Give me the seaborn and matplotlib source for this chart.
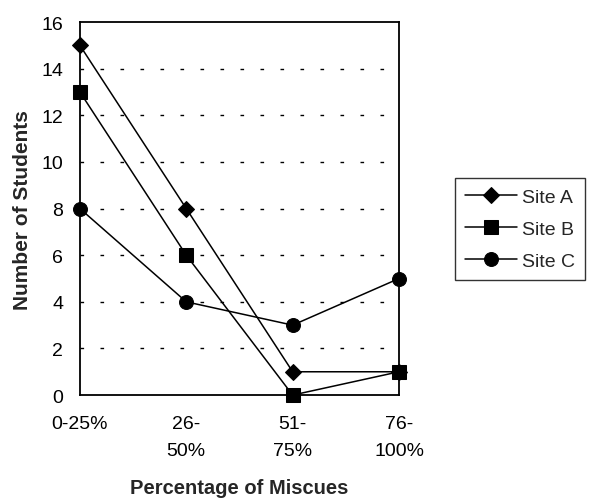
import matplotlib
matplotlib.use("Agg")
import matplotlib.pyplot as plt
import seaborn as sns
import pandas as pd

categories = ["0-25%", "26-\n50%", "51-\n75%", "76-\n100%"]
sites = ["Site A", "Site B", "Site C"]
site_a = [15, 8, 1, 1]
site_b = [13, 6, 0, 1]
site_c = [8, 4, 3, 5]
y_ticks = [0, 2, 4, 6, 8, 10, 12, 14, 16]

rows = []
for name, vals in zip(sites, [site_a, site_b, site_c]):
    for i, v in enumerate(vals):
        rows.append({"pos": i, "Students": v, "Site": name})
df = pd.DataFrame(rows)

sns.set_style("white")
plt.rcParams['font.family'] = ['Liberation Sans', 'DejaVu Sans']

fig = plt.figure(figsize=(5.92, 5.02), dpi=100)
ax = fig.add_axes([0.135, 0.211, 0.539, 0.743])

sns.lineplot(data=df, x="pos", y="Students", hue="Site", style="Site",
             markers={"Site A": "D", "Site B": "s", "Site C": "o"},
             dashes=False, palette=["black"] * 3, linewidth=1.1,
             markersize=10, markeredgecolor="black", ax=ax)

marker_sizes = {"D": 8.5, "s": 10, "o": 10}
for ln in ax.lines:
    ln.set_clip_on(False)
    m = ln.get_marker()
    if m in marker_sizes:
        ln.set_markersize(marker_sizes[m])

ax.set_xlim(0, 3)
ax.set_ylim(0, 16)
ax.set_yticks(y_ticks)
ax.set_xticks(range(len(categories)))
ax.set_xticklabels(categories, linespacing=1.75)
ax.tick_params(axis="both", labelsize=14, colors="black", direction="inout",
               length=7, width=1)
ax.tick_params(axis="x", pad=11)
ax.tick_params(axis="y", pad=8.5)
for t in y_ticks[1:-1]:
    ax.axhline(t, color="black", linewidth=1, linestyle=(0, (2.6, 11.8)), zorder=0)
for s in ax.spines.values():
    s.set_visible(True)
    s.set_color("black")
    s.set_linewidth(1.3)

ax.set_xlabel("Percentage of Miscues", fontsize=14.5, fontweight="bold", labelpad=14)
ax.set_ylabel("Number of Students", fontsize=15, fontweight="bold", labelpad=7)

h, l = ax.get_legend_handles_labels()
leg = ax.legend(h, l, loc="center left", bbox_to_anchor=(1.176, 0.445),
                frameon=True, fancybox=False, edgecolor="black", fontsize=14,
                handlelength=2.7, handletextpad=0.25, labelspacing=0.75,
                borderpad=0.5, borderaxespad=0)
leg.get_frame().set_linewidth(1.0)
for lh in leg.legend_handles:
    lh.set_linewidth(1.1)

fig.savefig("out.png", dpi=100, facecolor="white")
